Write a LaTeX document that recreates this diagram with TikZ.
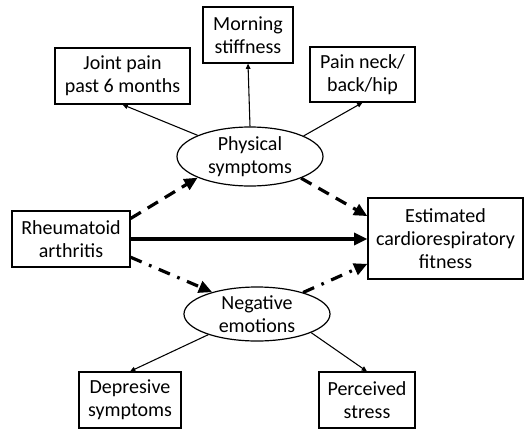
\documentclass[tikz,border=0pt]{standalone}
\usepackage{fontspec}
\setmainfont{Carlito}
\usepackage{tikz}
\usetikzlibrary{shapes.geometric, arrows.meta, positioning}

\tikzset{
    varbox/.style={draw, line width=0.9pt, align=center, inner sep=0pt},
    latent/.style={draw, ellipse, line width=0.9pt, align=center, inner sep=0pt},
    thinarrow/.style={line width=0.8pt, -{Triangle[length=4pt, width=3.5pt]}},
    patharrow/.style={line width=2.4pt, -{Triangle[length=10pt, width=9pt]}},
    dashpath/.style={patharrow, dash pattern=on 9pt off 6pt},
    dotpath/.style={patharrow, dash pattern=on 9pt off 6pt on 2pt off 6pt}
}

\begin{document}
\begin{tikzpicture}[x=0.75pt, y=-0.75pt, font=\fontsize{15}{17.5}\selectfont]
    \useasboundingbox (0,0) rectangle (529,429);

    % Physical symptoms and indicators
    \node[latent, minimum width=109.5pt, minimum height=44.25pt] (phys) at (250,156.5) {Physical\\symptoms};
    \node[varbox, minimum width=101.25pt, minimum height=42pt] (joint) at (122.5,76) {Joint pain\\past 6 months};
    \node[varbox, minimum width=67.5pt, minimum height=42pt] (morning) at (248,35) {Morning\\stiffness};
    \node[varbox, minimum width=78.75pt, minimum height=41.25pt] (neck) at (362.5,74.5) {Pain neck/\\back/hip};

    % Exposure and outcome
    \node[varbox, minimum width=88.5pt, minimum height=42pt] (ra) at (71,239) {Rheumatoid\\arthritis};
    \node[varbox, minimum width=116.25pt, minimum height=60.75pt] (crf) at (445.5,238.5) {Estimated\\cardiorespiratory\\fitness};

    % Negative emotions and indicators
    \node[latent, minimum width=109.5pt, minimum height=40.5pt] (neg) at (257,314) {Negative\\emotions};
    \node[varbox, minimum width=76.5pt, minimum height=42pt] (dep) at (130,400) {Depresive\\symptoms};
    \node[varbox, minimum width=72pt, minimum height=42pt] (stress) at (367,400) {Perceived\\stress};

    % Loadings
    \draw[thinarrow] (phys.158) -- (joint.south);
    \draw[thinarrow] (phys.north) -- (morning.south);
    \draw[thinarrow] (phys.21) -- (neck.south);
    \draw[thinarrow] (neg.203) -- (dep.north);
    \draw[thinarrow] (neg.-19) -- (stress.north);

    % Paths
    \draw[dashpath] (ra.19.6) -- (phys.202.5);
    \draw[dashpath] (phys.-23) -- (crf.164.8);
    \draw[patharrow] (ra.east) -- (ra.east -| crf.west);
    \draw[dotpath] (ra.-17.8) -- (neg.154);
    \draw[dotpath] (neg.25) -- (crf.-162);
\end{tikzpicture}
\end{document}
